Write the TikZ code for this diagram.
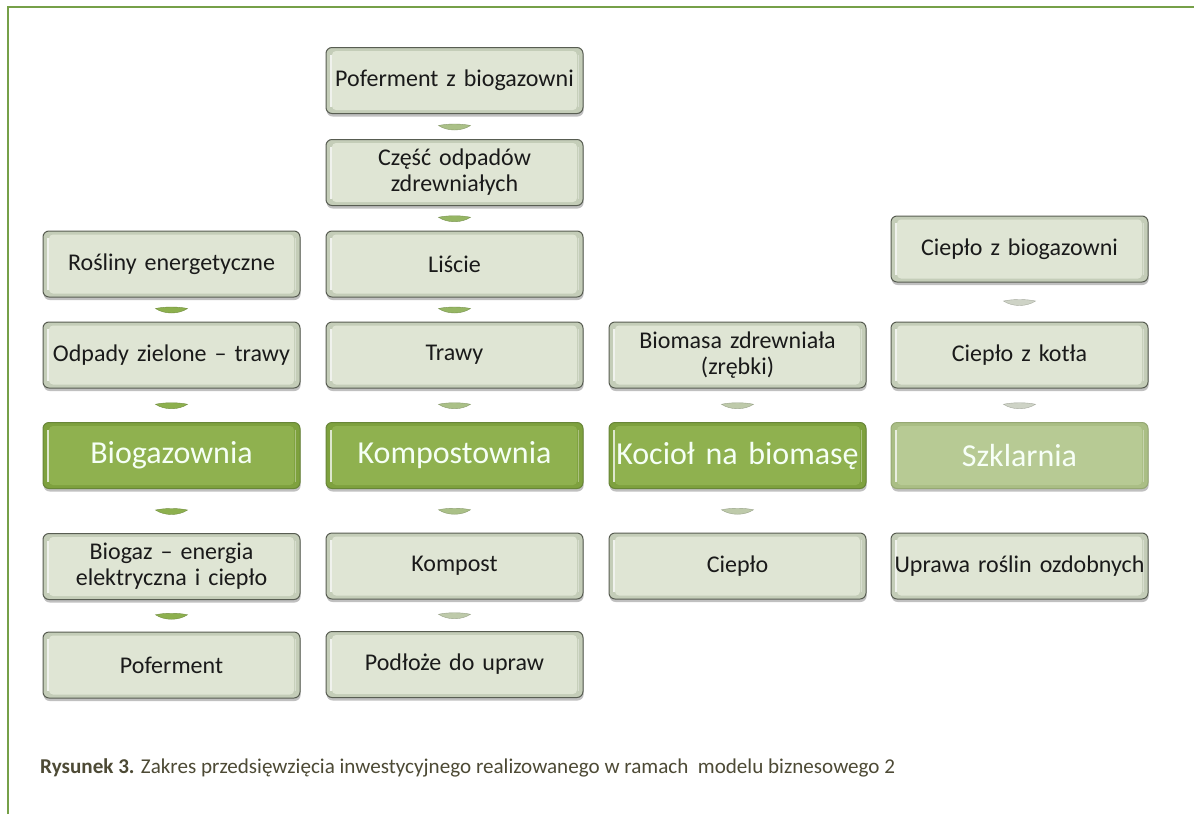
\documentclass[tikz,border=0pt]{standalone}
\usepackage{fontspec}
\setmainfont{Carlito}
\newfontfamily\cardfont{Carlito}[WordSpace=0.55]
\usetikzlibrary{calc,shadows}

\definecolor{framegreen}{RGB}{118,160,72}
\definecolor{ink}{RGB}{26,26,26}
\definecolor{captext}{RGB}{77,74,53}
\definecolor{edgegray}{RGB}{88,93,82}
\definecolor{paleouter}{RGB}{196,205,184}
\definecolor{paleinner}{RGB}{223,229,212}
\definecolor{leafedge}{RGB}{104,134,56}
\definecolor{leafouter}{RGB}{126,161,62}
\definecolor{leafinner}{RGB}{143,177,79}
\definecolor{mintedge}{RGB}{150,168,116}
\definecolor{mintouter}{RGB}{170,190,133}
\definecolor{mintinner}{RGB}{183,202,148}
\definecolor{barA}{RGB}{141,176,78}
\definecolor{barB}{RGB}{150,182,100}
\definecolor{barC}{RGB}{170,192,135}
\definecolor{barD}{RGB}{190,202,170}
\definecolor{barE}{RGB}{206,211,198}

\tikzset{
  card/.style n args={3}{
    rounded corners=6pt, minimum width=257pt, minimum height=66pt,
    inner sep=0pt, align=center, text width=255pt,
    draw=#1, line width=1pt, fill=#2,
    drop shadow={shadow xshift=0.6pt, shadow yshift=-3pt, opacity=0.35, fill=black!70},
    path picture={
      \fill[#3, rounded corners=4pt]
        ([shift={(6pt,-3.5pt)}]path picture bounding box.north west) rectangle
        ([shift={(-6pt,3.5pt)}]path picture bounding box.south east);
      \draw[white, opacity=0.75, line width=1.3pt]
        ([shift={(5pt,-7pt)}]path picture bounding box.north west) --
        ([shift={(5pt,7pt)}]path picture bounding box.south west);
      \draw[white, opacity=0.35, line width=1pt]
        ([shift={(-5pt,-7pt)}]path picture bounding box.north east) --
        ([shift={(-5pt,7pt)}]path picture bounding box.south east);
    }},
  palebox/.style={card={edgegray}{paleouter}{paleinner}, text=ink,
    font=\cardfont\fontsize{24}{26}\selectfont},
  leafbox/.style={card={leafedge}{leafouter}{leafinner}, text=white!96!green,
    font=\cardfont\fontsize{32}{36}\selectfont},
  mintbox/.style={card={mintedge}{mintouter}{mintinner}, text=white!97!green,
    font=\cardfont\fontsize{32}{36}\selectfont},
}

% small lens-shaped link placed halfway between two stacked cards
\newcommand{\linkbar}[3]{%
  \begin{scope}[shift={($(#1.south)!0.5!(#2.north)$)}]
    \fill[#3, draw=#3!80!black, line width=0.4pt]
      (-16,-1) .. controls (-6,-3) and (6,-3) .. (16,-1)
      .. controls (7,5) and (-7,5) .. (-16,-1) -- cycle;
  \end{scope}}

\begin{document}
\begin{tikzpicture}[x=1pt, y=-1pt]
  \fill[white] (0,0) rectangle (1194,814);
  \useasboundingbox (0,0) rectangle (1194,814);

  % outer frame
  \draw[framegreen, line width=2pt] (8,814) -- (8,7) -- (1194,7);

  % column 1: biogas plant
  \node[palebox] (rosl) at (171.5,264) {Rośliny energetyczne};
  \node[palebox] (odp)  at (171.5,355) {Odpady zielone – trawy};
  \node[leafbox] (biog) at (171.5,455.5) {Biogazownia};
  \node[palebox] (bgaz) at (171.5,566.5) {Biogaz – energia\\elektryczna i ciepło};
  \node[palebox] (pof)  at (171.5,665) {Poferment};

  % column 2: composting plant
  \node[palebox] (pofb) at (454.5,80.5) {Poferment z biogazowni};
  \node[palebox] (czes) at (454.5,172.5) {Część odpadów\\zdrewniałych};
  \node[palebox] (lisc) at (454.5,264) {Liście};
  \node[palebox] (traw) at (454.5,355) {Trawy};
  \node[leafbox] (komp) at (454.5,455.5) {Kompostownia};
  \node[palebox] (kpst) at (454.5,566) {Kompost};
  \node[palebox] (podl) at (454.5,664.5) {Podłoże do upraw};

  % column 3: biomass boiler
  \node[palebox] (biom) at (737.5,355) {Biomasa zdrewniała\\(zrębki)};
  \node[leafbox] (koc)  at (737.5,455.5) {Kocioł na biomasę};
  \node[palebox] (ciep) at (737.5,566) {Ciepło};

  % column 4: greenhouse
  \node[palebox] (cbio) at (1019.5,249) {Ciepło z biogazowni};
  \node[palebox] (ckot) at (1019.5,355) {Ciepło z kotła};
  \node[mintbox] (szkl) at (1019.5,455.5) {Szklarnia};
  \node[palebox] (upr)  at (1019.5,566) {Uprawa roślin ozdobnych};

  % links
  \linkbar{rosl}{odp}{barA}
  \linkbar{odp}{biog}{barA}
  \linkbar{biog}{bgaz}{barA}
  \linkbar{bgaz}{pof}{barA}

  \linkbar{pofb}{czes}{barC}
  \linkbar{czes}{lisc}{barB}
  \linkbar{lisc}{traw}{barB}
  \linkbar{traw}{komp}{barC}
  \linkbar{komp}{kpst}{barC}
  \linkbar{kpst}{podl}{barD}

  \linkbar{biom}{koc}{barD}
  \linkbar{koc}{ciep}{barD}

  \linkbar{cbio}{ckot}{barE}
  \linkbar{ckot}{szkl}{barE}

  % caption
  \node[anchor=west, inner sep=0pt, text=captext, font=\fontsize{21.1}{24}\selectfont]
    (cap) at (40,768)
    {\textbf{Rysunek 3.} Zakres przedsięwzięcia inwestycyjnego realizowanego w ramach\ \ modelu biznesowego 2};
\end{tikzpicture}
\end{document}
